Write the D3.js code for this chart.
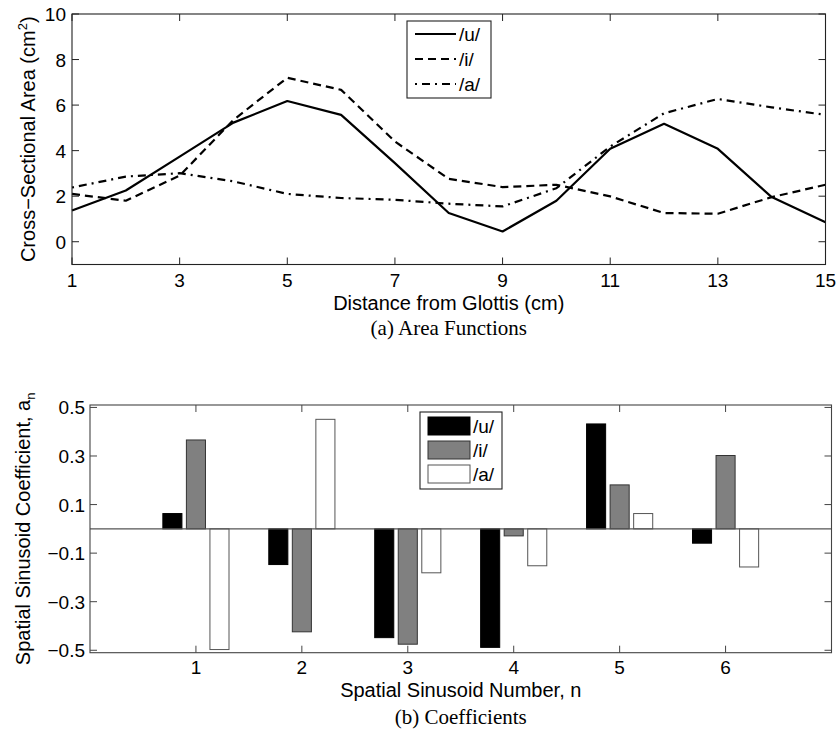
<!DOCTYPE html>
<html>
<head>
<meta charset="utf-8">
<script src="https://cdn.jsdelivr.net/npm/d3@7"></script>
<style>
  html, body { margin: 0; padding: 0; background: #fff; }
  svg { display: block; }
  .sans { font-family: "Liberation Sans", Arial, Helvetica, sans-serif; fill: #000; }
  .serif { font-family: "Liberation Serif", "Times New Roman", serif; fill: #000; }
</style>
</head>
<body>
<svg id="fig" width="838" height="740"></svg>
<script>
// ---- Area functions (cross-sectional area per 1-cm section) ----
const distance = [1, 2, 3, 4, 5, 6, 7, 8, 9, 10, 11, 12, 13, 14, 15];
const areaU = [1.37, 2.25, 3.74, 5.23, 6.18, 5.57, 3.45, 1.26, 0.45, 1.80, 4.08, 5.18, 4.08, 1.96, 0.85];
const areaI = [2.10, 1.80, 2.90, 5.35, 7.20, 6.67, 4.40, 2.76, 2.40, 2.50, 1.99, 1.26, 1.23, 1.96, 2.50];
const areaA = [2.38, 2.86, 3.01, 2.65, 2.10, 1.92, 1.84, 1.67, 1.55, 2.35, 4.18, 5.64, 6.27, 5.90, 5.57];
const areaXTicks = [1, 3, 5, 7, 9, 11, 13, 15];
const areaYTicks = [0, 2, 4, 6, 8, 10];

// ---- Spatial sinusoid coefficients ----
const sinusoidNumber = [1, 2, 3, 4, 5, 6];
const coefU = [0.063, -0.147, -0.448, -0.488, 0.432, -0.059];
const coefI = [0.366, -0.424, -0.475, -0.029, 0.181, 0.302];
const coefA = [-0.497, 0.451, -0.181, -0.152, 0.063, -0.157];
const coefYTicks = [-0.5, -0.3, -0.1, 0.1, 0.3, 0.5];
const vowels = ["/u/", "/i/", "/a/"];

const svg = d3.select("#fig");
const TICK = 7;
const TICK_FONT = 19;
const LABEL_FONT = 20;
const fmtMinus = v => d3.format(".1f")(v).replace("-", "\u2212");

// inward ticks on all four sides plus the axes box
function boxTicks(g, x, y, xt, yt, color) {
  const [x0, x1] = x.range();
  const [y1, y0] = y.range();
  g.append("g").selectAll("line").data(xt).join("line")
    .attr("x1", d => x(d)).attr("x2", d => x(d))
    .attr("y1", y1).attr("y2", y1 - TICK).attr("stroke", color);
  g.append("g").selectAll("line").data(xt).join("line")
    .attr("x1", d => x(d)).attr("x2", d => x(d))
    .attr("y1", y0).attr("y2", y0 + TICK).attr("stroke", color);
  g.append("g").selectAll("line").data(yt).join("line")
    .attr("x1", x0).attr("x2", x0 + TICK)
    .attr("y1", d => y(d)).attr("y2", d => y(d)).attr("stroke", color);
  g.append("g").selectAll("line").data(yt).join("line")
    .attr("x1", x1).attr("x2", x1 - TICK)
    .attr("y1", d => y(d)).attr("y2", d => y(d)).attr("stroke", color);
  g.append("rect")
    .attr("x", x0).attr("y", y0).attr("width", x1 - x0).attr("height", y1 - y0)
    .attr("fill", "none").attr("stroke", color).attr("stroke-width", 1.1);
}

// ================= (a) Area Functions =================
const xA = d3.scaleLinear().domain([1, 15]).range([72, 825.5]);
const yA = d3.scaleLinear().domain([-1, 10]).range([264.5, 14]);
const gA = svg.append("g");

const lineA = d3.line().x((d, i) => xA(distance[i])).y(d => yA(d));
const seriesA = [
  { name: vowels[0], values: areaU, dash: null },
  { name: vowels[1], values: areaI, dash: "8,5" },
  { name: vowels[2], values: areaA, dash: "2,5,8,5" }
];

gA.selectAll("path.curve").data(seriesA).join("path")
  .attr("class", "curve")
  .attr("d", d => lineA(d.values))
  .attr("fill", "none").attr("stroke", "#000").attr("stroke-width", 2.2)
  .attr("stroke-linejoin", "round")
  .attr("stroke-dasharray", d => d.dash);

boxTicks(gA, xA, yA, areaXTicks, areaYTicks, "#222");

gA.selectAll("text.xt").data(areaXTicks).join("text")
  .attr("class", "sans xt").attr("font-size", TICK_FONT)
  .attr("x", d => xA(d)).attr("y", 286.5).attr("text-anchor", "middle")
  .text(d => d);
gA.selectAll("text.yt").data(areaYTicks).join("text")
  .attr("class", "sans yt").attr("font-size", TICK_FONT)
  .attr("x", 66).attr("y", d => yA(d) + 7).attr("text-anchor", "end")
  .text(d => d);

gA.append("text").attr("class", "sans").attr("font-size", LABEL_FONT)
  .attr("x", (xA.range()[0] + xA.range()[1]) / 2).attr("y", 310)
  .attr("text-anchor", "middle").text("Distance from Glottis (cm)");

const yLabA = gA.append("text").attr("class", "sans").attr("font-size", LABEL_FONT)
  .attr("transform", `translate(35,${(yA.range()[0] + yA.range()[1]) / 2}) rotate(-90)`)
  .attr("text-anchor", "middle");
yLabA.append("tspan").text("Cross\u2212Sectional Area (cm");
yLabA.append("tspan").attr("font-size", 13).attr("dy", -8).text("2");
yLabA.append("tspan").attr("dy", 8).text(")");

gA.append("text").attr("class", "serif").attr("font-size", 21)
  .attr("x", (xA.range()[0] + xA.range()[1]) / 2).attr("y", 335)
  .attr("text-anchor", "middle").text("(a) Area Functions");

// legend for the line styles
const legA = gA.append("g").attr("transform", "translate(407,21)");
legA.append("rect").attr("width", 84).attr("height", 77)
  .attr("fill", "#fff").attr("stroke", "#222").attr("stroke-width", 1.1);
const legARows = legA.selectAll("g.row").data(seriesA).join("g")
  .attr("transform", (d, i) => `translate(0,${13 + i * 25})`);
legARows.append("line").attr("x1", 8).attr("x2", 49).attr("y1", 0).attr("y2", 0)
  .attr("stroke", "#000").attr("stroke-width", 2.2)
  .attr("stroke-dasharray", d => d.dash);
legARows.append("text").attr("class", "sans").attr("font-size", TICK_FONT)
  .attr("x", 52).attr("y", 7).text(d => d.name);

// ================= (b) Coefficients =================
const xB = d3.scaleLinear().domain([0, 7]).range([90, 831.5]);
const yB = d3.scaleLinear().domain([-0.51, 0.51]).range([652.7, 405]);
const xSub = d3.scaleBand().domain(vowels).range([-1 / 3, 1 / 3])
  .paddingInner(0.19).paddingOuter(0.095);

const seriesB = [
  { name: vowels[0], values: coefU, fill: "#000", stroke: "#000" },
  { name: vowels[1], values: coefI, fill: "#808080", stroke: "#333" },
  { name: vowels[2], values: coefA, fill: "#fff", stroke: "#555" }
];

const gB = svg.append("g");

const barsData = seriesB.flatMap(s => s.values.map((v, i) => ({ s, n: sinusoidNumber[i], v })));
const bw = xB(xSub.bandwidth()) - xB(0);

gB.selectAll("rect.bar").data(barsData).join("rect")
  .attr("class", "bar")
  .attr("x", d => xB(d.n + xSub(d.s.name)))
  .attr("width", bw)
  .attr("y", d => yB(Math.max(0, d.v)))
  .attr("height", d => Math.abs(yB(d.v) - yB(0)))
  .attr("fill", d => d.s.fill).attr("stroke", d => d.s.stroke).attr("stroke-width", 1);

// zero baseline
gB.append("line").attr("x1", xB.range()[0]).attr("x2", xB.range()[1])
  .attr("y1", yB(0)).attr("y2", yB(0)).attr("stroke", "#555").attr("stroke-width", 1.2);

boxTicks(gB, xB, yB, sinusoidNumber, coefYTicks, "#444");

gB.selectAll("text.xt").data(sinusoidNumber).join("text")
  .attr("class", "sans xt").attr("font-size", TICK_FONT)
  .attr("x", d => xB(d)).attr("y", 674).attr("text-anchor", "middle")
  .text(d => d);
gB.selectAll("text.yt").data(coefYTicks).join("text")
  .attr("class", "sans yt").attr("font-size", TICK_FONT)
  .attr("x", 85).attr("y", d => yB(d) + 7).attr("text-anchor", "end")
  .text(d => fmtMinus(d));

gB.append("text").attr("class", "sans").attr("font-size", LABEL_FONT)
  .attr("x", (xB.range()[0] + xB.range()[1]) / 2).attr("y", 697)
  .attr("text-anchor", "middle").text("Spatial Sinusoid Number, n");

const yLabB = gB.append("text").attr("class", "sans").attr("font-size", LABEL_FONT)
  .attr("transform", `translate(30,${(yB.range()[0] + yB.range()[1]) / 2}) rotate(-90)`)
  .attr("text-anchor", "middle");
yLabB.append("tspan").text("Spatial Sinusoid Coefficient, a");
yLabB.append("tspan").attr("font-size", 13).attr("dy", 5).text("n");

gB.append("text").attr("class", "serif").attr("font-size", 21)
  .attr("x", (xB.range()[0] + xB.range()[1]) / 2).attr("y", 724)
  .attr("text-anchor", "middle").text("(b) Coefficients");

// legend for the bar fills
const legB = gB.append("g").attr("transform", "translate(420,412)");
legB.append("rect").attr("width", 82).attr("height", 77)
  .attr("fill", "#fff").attr("stroke", "#222").attr("stroke-width", 1.1);
const legBRows = legB.selectAll("g.row").data(seriesB).join("g")
  .attr("transform", (d, i) => `translate(0,${14 + i * 24})`);
legBRows.append("rect").attr("x", 8).attr("y", -9).attr("width", 42).attr("height", 18)
  .attr("fill", d => d.fill).attr("stroke", d => d.stroke).attr("stroke-width", 1);
legBRows.append("text").attr("class", "sans").attr("font-size", TICK_FONT)
  .attr("x", 53).attr("y", 7).text(d => d.name);
</script>
</body>
</html>
